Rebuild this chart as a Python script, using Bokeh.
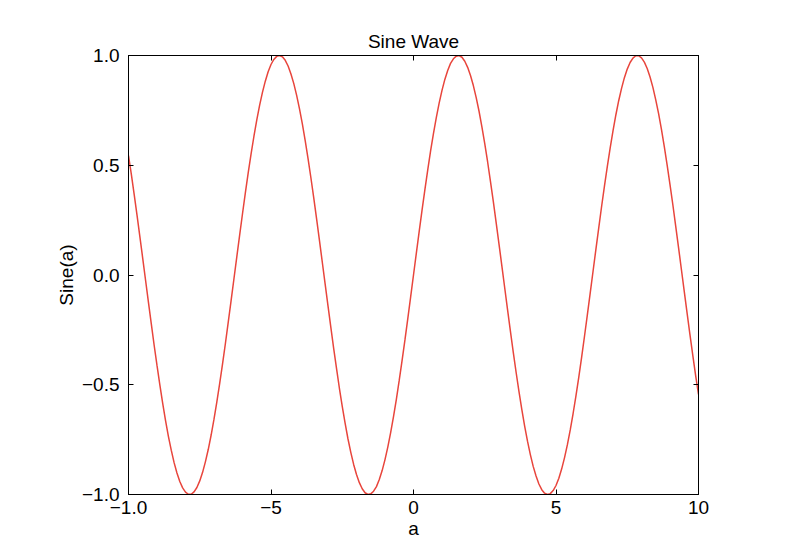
from bokeh.plotting import figure
from bokeh.models import Range1d, LinearAxis, FixedTicker
from bokeh.embed import file_html
from bokeh.resources import INLINE

# sample grid of a (step 0.1 from -10 to 10)
a_vals = [round(-10 + 0.1 * i, 1) for i in range(201)]
# Sine(a) values
sine_vals = [
    # -10.0 .. -9.1
    0.544, 0.458, 0.366, 0.272, 0.174, 0.075, -0.025, -0.125, -0.223, -0.320,
    # -9.0 .. -8.1
    -0.412, -0.501, -0.585, -0.663, -0.735, -0.798, -0.855, -0.902, -0.941, -0.970,
    # -8.0 .. -7.1
    -0.989, -0.999, -0.999, -0.988, -0.968, -0.938, -0.899, -0.850, -0.794, -0.729,
    # -7.0 .. -6.1
    -0.657, -0.578, -0.494, -0.405, -0.312, -0.215, -0.117, -0.017, 0.083, 0.182,
    # -6.0 .. -5.1
    0.279, 0.374, 0.465, 0.551, 0.631, 0.706, 0.773, 0.832, 0.883, 0.926,
    # -5.0 .. -4.1
    0.959, 0.982, 0.996, 1.000, 0.994, 0.978, 0.952, 0.916, 0.872, 0.818,
    # -4.0 .. -3.1
    0.757, 0.688, 0.612, 0.530, 0.443, 0.351, 0.256, 0.158, 0.058, -0.042,
    # -3.0 .. -2.1
    -0.141, -0.239, -0.335, -0.427, -0.516, -0.598, -0.675, -0.746, -0.808, -0.863,
    # -2.0 .. -1.1
    -0.909, -0.946, -0.974, -0.992, -1.000, -0.997, -0.985, -0.964, -0.932, -0.891,
    # -1.0 .. -0.1
    -0.841, -0.783, -0.717, -0.644, -0.565, -0.479, -0.389, -0.296, -0.199, -0.100,
    # 0.0 .. 0.9
    0.000, 0.100, 0.199, 0.296, 0.389, 0.479, 0.565, 0.644, 0.717, 0.783,
    # 1.0 .. 1.9
    0.841, 0.891, 0.932, 0.964, 0.985, 0.997, 1.000, 0.992, 0.974, 0.946,
    # 2.0 .. 2.9
    0.909, 0.863, 0.808, 0.746, 0.675, 0.598, 0.516, 0.427, 0.335, 0.239,
    # 3.0 .. 3.9
    0.141, 0.042, -0.058, -0.158, -0.256, -0.351, -0.443, -0.530, -0.612, -0.688,
    # 4.0 .. 4.9
    -0.757, -0.818, -0.872, -0.916, -0.952, -0.978, -0.994, -1.000, -0.996, -0.982,
    # 5.0 .. 5.9
    -0.959, -0.926, -0.883, -0.832, -0.773, -0.706, -0.631, -0.551, -0.465, -0.374,
    # 6.0 .. 6.9
    -0.279, -0.182, -0.083, 0.017, 0.117, 0.215, 0.312, 0.405, 0.494, 0.578,
    # 7.0 .. 7.9
    0.657, 0.729, 0.794, 0.850, 0.899, 0.938, 0.968, 0.988, 0.999, 0.999,
    # 8.0 .. 8.9
    0.989, 0.970, 0.941, 0.902, 0.855, 0.798, 0.735, 0.663, 0.585, 0.501,
    # 9.0 .. 9.9
    0.412, 0.320, 0.223, 0.125, 0.025, -0.075, -0.174, -0.272, -0.366, -0.458,
    # 10.0
    -0.544,
]

x_ticks = [-10, -5, 0, 5, 10]
x_tick_labels = ["\u22121.0", "\u22125", "0", "5", "10"]
y_ticks = [-1.0, -0.5, 0.0, 0.5, 1.0]
y_tick_labels = ["\u22121.0", "\u22120.5", "0.0", "0.5", "1.0"]

FONT = "Liberation Sans"

p = figure(width=789, height=541, output_backend="svg", toolbar_location=None,
           x_range=Range1d(-10, 10), y_range=Range1d(-1, 1),
           x_axis_location=None, y_axis_location=None,
           min_border_left=128, min_border_right=91,
           min_border_top=55, min_border_bottom=46)
p.grid.visible = False
p.background_fill_color = "white"
p.border_fill_color = "white"
p.outline_line_color = "black"
p.outline_line_width = 1

p.title.text = "Sine Wave"
p.title.align = "center"
p.title.text_font = FONT
p.title.text_font_size = "19px"
p.title.text_font_style = "normal"
p.title.text_color = "black"
p.title.standoff = 8

p.line(a_vals, sine_vals, line_color="#e8453c", line_width=1.5)


def style_axis(ax, ticks, labels=None, label_text=None):
    ax.ticker = FixedTicker(ticks=ticks)
    ax.minor_tick_line_color = None
    ax.major_tick_in = 5
    ax.major_tick_out = 0
    ax.major_tick_line_color = "black"
    ax.axis_line_color = "black"
    if labels is None:
        ax.major_label_text_alpha = 0
        ax.major_label_text_font_size = "1px"
    else:
        ax.major_label_overrides = {t: l for t, l in zip(ticks, labels)}
        ax.major_label_text_font = FONT
        ax.major_label_text_font_size = "19px"
        ax.major_label_text_color = "black"
    if label_text:
        ax.axis_label = label_text
        ax.axis_label_text_font = FONT
        ax.axis_label_text_font_size = "19px"
        ax.axis_label_text_font_style = "normal"
        ax.axis_label_text_color = "black"


xb = LinearAxis()
style_axis(xb, x_ticks, x_tick_labels, "a")
xb.major_label_standoff = 6
xb.axis_label_standoff = 1
p.add_layout(xb, "below")

yl = LinearAxis()
style_axis(yl, y_ticks, y_tick_labels, "Sine(a)")
yl.major_label_standoff = 9
yl.axis_label_standoff = 2
p.add_layout(yl, "left")

xt = LinearAxis()
style_axis(xt, x_ticks)
xt.major_label_standoff = 0
p.add_layout(xt, "above")

yr = LinearAxis()
style_axis(yr, y_ticks)
yr.major_label_standoff = 0
p.add_layout(yr, "right")

open("out.html", "w").write(file_html(p, INLINE))
